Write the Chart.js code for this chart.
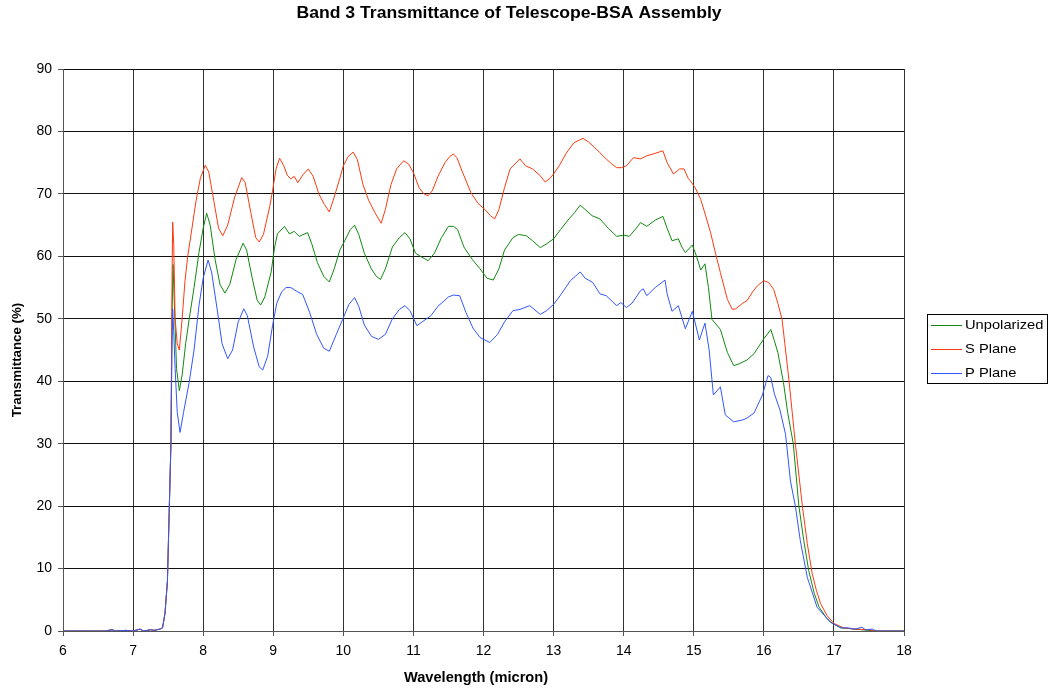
<!DOCTYPE html>
<html>
<head>
<meta charset="utf-8">
<script src="https://cdn.jsdelivr.net/npm/chart.js@4/dist/chart.umd.min.js"></script>
<style>
  html, body { margin: 0; padding: 0; background: #fff; }
  #wrap { width: 1052px; height: 693px; position: relative; }
</style>
</head>
<body>
<div id="wrap"><canvas id="c" width="1052" height="693"></canvas></div>
<script>
// Wavelength (micron) and transmittance (%) for each polarization state
const unpolWave = [6.0, 6.6, 6.7, 6.75, 6.9, 7.0, 7.1, 7.15, 7.25, 7.3, 7.38, 7.42, 7.455, 7.49, 7.515, 7.54, 7.555, 7.57, 7.59, 7.62, 7.66, 7.7, 7.75, 7.8, 7.87, 7.94, 8.0, 8.05, 8.1, 8.17, 8.24, 8.31, 8.38, 8.47, 8.57, 8.62, 8.7, 8.77, 8.82, 8.88, 8.97, 9.02, 9.06, 9.16, 9.23, 9.3, 9.37, 9.49, 9.55, 9.63, 9.72, 9.8, 9.87, 9.95, 10.02, 10.1, 10.16, 10.22, 10.3, 10.4, 10.47, 10.53, 10.6, 10.7, 10.8, 10.88, 10.95, 11.03, 11.1, 11.21, 11.3, 11.4, 11.5, 11.57, 11.63, 11.72, 11.84, 11.95, 12.05, 12.14, 12.22, 12.3, 12.42, 12.5, 12.61, 12.7, 12.81, 12.9, 13.0, 13.1, 13.22, 13.3, 13.38, 13.45, 13.55, 13.66, 13.78, 13.9, 14.0, 14.08, 14.18, 14.24, 14.33, 14.45, 14.56, 14.62, 14.69, 14.78, 14.83, 14.88, 14.98, 15.04, 15.1, 15.16, 15.21, 15.26, 15.38, 15.48, 15.57, 15.65, 15.76, 15.86, 16.0, 16.1, 16.15, 16.2, 16.28, 16.34, 16.42, 16.5, 16.57, 16.64, 16.72, 16.79, 16.9, 16.98, 17.1, 17.3, 17.6, 18.0];
const unpolValues = [0, 0, 0.2, 0, 0.1, 0, 0.3, 0, 0.2, 0.1, 0.3, 0.5, 2.8, 8, 19, 30, 50, 58.7, 52, 42, 38.5, 41, 46, 49.9, 55, 60.6, 64.5, 66.9, 65, 59.5, 55.5, 54.1, 55.5, 59.5, 62.1, 61, 56.5, 53, 52.2, 53.5, 57.5, 61.5, 63.6, 64.8, 63.6, 64, 63.2, 63.8, 62, 59, 56.8, 55.9, 58, 61, 62.5, 64.3, 65, 63.5, 60.5, 58, 56.8, 56.3, 58, 61.5, 63, 63.8, 62.8, 60.5, 60, 59.3, 60.5, 63, 64.8, 64.8, 64.3, 61.5, 59.5, 58, 56.5, 56.2, 58, 61, 63, 63.5, 63.3, 62.5, 61.4, 62, 62.8, 64.3, 66, 67, 68.2, 67.5, 66.5, 66, 64.5, 63.2, 63.4, 63.2, 64.5, 65.4, 64.8, 65.8, 66.4, 64.5, 62.5, 62.8, 61.5, 60.6, 61.8, 60, 57.8, 58.8, 55, 49.9, 48.3, 44.6, 42.5, 42.8, 43.4, 44.4, 46.8, 48.3, 46.5, 44.6, 39.8, 35, 30, 20, 14.5, 9.7, 6, 3.8, 2, 1.2, 0.5, 0.3, 0, 0];

const sWave = [6.0, 6.6, 6.7, 6.75, 6.9, 7.0, 7.1, 7.15, 7.25, 7.3, 7.38, 7.42, 7.455, 7.49, 7.515, 7.54, 7.555, 7.565, 7.58, 7.6, 7.63, 7.66, 7.7, 7.74, 7.78, 7.84, 7.9, 7.96, 8.03, 8.08, 8.15, 8.22, 8.28, 8.35, 8.45, 8.55, 8.6, 8.68, 8.75, 8.8, 8.86, 8.95, 8.99, 9.04, 9.09, 9.15, 9.2, 9.25, 9.3, 9.35, 9.42, 9.5, 9.57, 9.65, 9.73, 9.8, 9.87, 9.95, 10.0, 10.07, 10.14, 10.2, 10.28, 10.36, 10.45, 10.54, 10.6, 10.68, 10.76, 10.86, 10.93, 11.0, 11.08, 11.15, 11.21, 11.27, 11.35, 11.45, 11.52, 11.57, 11.62, 11.7, 11.82, 11.92, 12.02, 12.1, 12.16, 12.22, 12.3, 12.38, 12.45, 12.52, 12.6, 12.7, 12.81, 12.88, 12.94, 13.0, 13.08, 13.18, 13.29, 13.42, 13.5, 13.58, 13.66, 13.75, 13.83, 13.9, 13.97, 14.04, 14.14, 14.24, 14.33, 14.45, 14.56, 14.62, 14.71, 14.8, 14.86, 14.92, 14.95, 15.02, 15.1, 15.17, 15.24, 15.31, 15.38, 15.48, 15.55, 15.6, 15.7, 15.76, 15.84, 15.91, 16.0, 16.07, 16.14, 16.2, 16.26, 16.3, 16.36, 16.45, 16.55, 16.62, 16.69, 16.75, 16.81, 16.9, 17.0, 17.14, 17.3, 17.5, 17.6, 18.0];
const sValues = [0, 0, 0.2, 0, 0.1, 0, 0.3, 0, 0.2, 0.1, 0.3, 0.5, 2.8, 8, 19, 30, 55, 65.5, 62, 50, 46, 45, 50, 56, 60, 64.5, 69, 72.5, 74.6, 73.5, 69, 64.5, 63.3, 65, 69.5, 72.6, 71.8, 67, 63, 62.3, 63.5, 68, 70.5, 74, 75.7, 74.5, 73, 72.4, 72.8, 71.8, 73, 74, 72.8, 70, 68.3, 67.1, 69.5, 72.5, 74.5, 76, 76.7, 75.5, 71.5, 69, 67, 65.3, 67.5, 71.5, 74, 75.3, 74.8, 73.4, 71, 70, 69.7, 70.5, 72.8, 75, 76, 76.4, 75.8, 73.5, 70.2, 68.5, 67.5, 66.5, 66, 67.5, 71, 74, 74.8, 75.6, 74.5, 74, 72.9, 71.9, 72.4, 73.2, 74.5, 76.5, 78.2, 78.9, 78.3, 77.5, 76.6, 75.6, 74.8, 74.2, 74.2, 74.5, 75.8, 75.6, 76.1, 76.5, 76.9, 75, 73.2, 74, 74, 72.5, 72.1, 71, 69.1, 66.5, 63.8, 60.5, 57.4, 53.1, 51.5, 51.6, 52.5, 52.9, 54.3, 55.3, 56.1, 55.8, 54.7, 52.5, 49.9, 46, 40, 30, 20, 14, 9.2, 6.5, 4.4, 2.5, 1.2, 0.5, 0.3, 0.2, 0, 0];

const pWave = [6.0, 6.6, 6.7, 6.75, 6.9, 7.0, 7.1, 7.15, 7.25, 7.3, 7.38, 7.42, 7.455, 7.49, 7.515, 7.54, 7.555, 7.565, 7.58, 7.6, 7.63, 7.67, 7.72, 7.8, 7.87, 7.94, 8.0, 8.07, 8.12, 8.2, 8.27, 8.35, 8.42, 8.5, 8.58, 8.63, 8.72, 8.8, 8.85, 8.92, 8.99, 9.05, 9.12, 9.18, 9.25, 9.35, 9.42, 9.52, 9.62, 9.72, 9.8, 9.9, 9.99, 10.08, 10.16, 10.22, 10.3, 10.4, 10.5, 10.6, 10.7, 10.8, 10.88, 10.95, 11.05, 11.15, 11.25, 11.35, 11.5, 11.57, 11.66, 11.75, 11.85, 11.95, 12.09, 12.2, 12.3, 12.42, 12.52, 12.66, 12.81, 12.9, 13.0, 13.1, 13.24, 13.38, 13.45, 13.56, 13.66, 13.75, 13.9, 13.96, 14.04, 14.12, 14.24, 14.28, 14.33, 14.45, 14.59, 14.62, 14.69, 14.78, 14.88, 14.98, 15.08, 15.16, 15.22, 15.28, 15.38, 15.45, 15.57, 15.7, 15.76, 15.86, 15.98, 16.06, 16.1, 16.15, 16.23, 16.31, 16.38, 16.45, 16.52, 16.62, 16.76, 16.95, 17.1, 17.2, 17.3, 17.4, 17.45, 17.55, 17.6, 18.0];
const pValues = [0, 0, 0.2, 0, 0.1, 0, 0.3, 0, 0.2, 0.1, 0.3, 0.5, 2.8, 8, 19, 30, 45, 51.6, 48, 42, 35, 31.8, 35, 39.8, 45, 52.1, 56.5, 59.4, 57.5, 51.5, 46, 43.6, 45, 49.5, 51.6, 50.5, 45.5, 42.3, 41.8, 44, 48.9, 52.5, 54.3, 55, 55, 54.3, 53.9, 51, 47.5, 45.3, 44.8, 47.5, 49.9, 52.3, 53.4, 52, 49, 47.2, 46.7, 47.5, 50, 51.5, 52.1, 51.3, 48.9, 49.7, 50.5, 52, 53.5, 53.8, 53.7, 51, 48.5, 47, 46.2, 47.5, 49.5, 51.3, 51.5, 52.1, 50.7, 51.3, 52.3, 53.8, 56.1, 57.5, 56.5, 55.8, 54, 53.7, 52.1, 52.6, 51.8, 52.5, 54.5, 54.8, 53.7, 55, 56.2, 54, 51.2, 52.1, 48.4, 51.2, 46.6, 49.3, 45, 37.8, 39.1, 34.6, 33.5, 33.8, 34.1, 34.9, 37.8, 40.9, 40.6, 38, 35.4, 31.5, 24, 20, 14.5, 8.6, 3.8, 1.4, 0.5, 0.5, 0.3, 0.6, 0.2, 0.3, 0, 0];

const xTicks = [6, 7, 8, 9, 10, 11, 12, 13, 14, 15, 16, 17, 18];
const yTicks = [0, 10, 20, 30, 40, 50, 60, 70, 80, 90];

const seriesNames = ['Unpolarized', 'S Plane', 'P Plane'];
const seriesColors = ['#108a10', '#ff3a10', '#3355ff'];

const chartTitle = 'Band 3 Transmittance of Telescope-BSA Assembly';
const xTitle = 'Wavelength (micron)';
const yTitle = 'Transmittance (%)';

const FONT = "'Liberation Sans', Arial, sans-serif";

function pts(w, v) { return w.map((x, i) => ({ x: x, y: v[i] })); }

// Text drawn slightly widened horizontally, as in the original layout
function wideText(ctx, text, x, y, font, sx, align) {
  ctx.save();
  ctx.font = font;
  ctx.fillStyle = '#000';
  ctx.textBaseline = 'middle';
  ctx.textAlign = align || 'center';
  ctx.translate(x, y);
  ctx.scale(sx, 1);
  ctx.fillText(text, 0, 0);
  ctx.restore();
}

// Chart title, axis titles and the boxed legend
const annotations = {
  id: 'annotations',
  afterDraw(chart) {
    const ctx = chart.ctx;
    const area = chart.chartArea;
    wideText(ctx, chartTitle, 509, 14, 'bold 16px ' + FONT, 1.1);
    wideText(ctx, xTitle, 476, 678, 'bold 14px ' + FONT, 1.045);

    ctx.save();
    ctx.font = 'bold 13.3px ' + FONT;
    ctx.fillStyle = '#000';
    ctx.textAlign = 'center';
    ctx.textBaseline = 'middle';
    ctx.translate(17, (area.top + area.bottom) / 2 + 10);
    ctx.rotate(-Math.PI / 2);
    ctx.fillText(yTitle, 0, 0);
    ctx.restore();

    const left = 927.5, top = 314.5, w = 120, h = 69, row = 24;
    ctx.save();
    ctx.lineWidth = 1;
    ctx.strokeStyle = '#000';
    ctx.strokeRect(left, top, w, h);
    seriesNames.forEach((name, i) => {
      const y = Math.round(top + 10.5 + i * row);
      ctx.fillStyle = seriesColors[i];
      ctx.fillRect(931, y, 31, 1);
      wideText(ctx, name, 965, y + 0.5, '13px ' + FONT, 1.13, 'left');
    });
    ctx.restore();
  }
};

new Chart(document.getElementById('c'), {
  type: 'line',
  data: {
    datasets: [
      { label: seriesNames[0], data: pts(unpolWave, unpolValues), borderColor: seriesColors[0], order: 3 },
      { label: seriesNames[1], data: pts(sWave, sValues), borderColor: seriesColors[1], order: 2 },
      { label: seriesNames[2], data: pts(pWave, pValues), borderColor: seriesColors[2], order: 1 }
    ]
  },
  options: {
    responsive: false,
    animation: false,
    events: [],
    elements: {
      line: { borderWidth: 1, tension: 0 },
      point: { radius: 0 }
    },
    layout: { padding: { left: 0, right: 148, top: 69, bottom: 0 } },
    plugins: {
      legend: { display: false },
      tooltip: { enabled: false },
      title: { display: false }
    },
    scales: {
      x: {
        type: 'linear',
        min: 6, max: 18,
        afterBuildTicks: s => { s.ticks = xTicks.map(v => ({ value: v })); },
        afterFit: s => { s.height = 62; },
        ticks: { color: '#000', font: { family: FONT, size: 14 }, padding: 7, maxRotation: 0 },
        grid: { color: '#333', lineWidth: 1, tickLength: 5, tickColor: '#555' },
        border: { color: '#555', width: 1 }
      },
      y: {
        min: 0, max: 90,
        afterBuildTicks: s => { s.ticks = yTicks.map(v => ({ value: v })); },
        afterFit: s => { s.width = 63; },
        ticks: { color: '#000', font: { family: FONT, size: 14 }, padding: 6 },
        grid: { color: '#111', lineWidth: 1, tickLength: 5, tickColor: '#555' },
        border: { color: '#555', width: 1 }
      }
    }
  },
  plugins: [annotations]
});
</script>
</body>
</html>
